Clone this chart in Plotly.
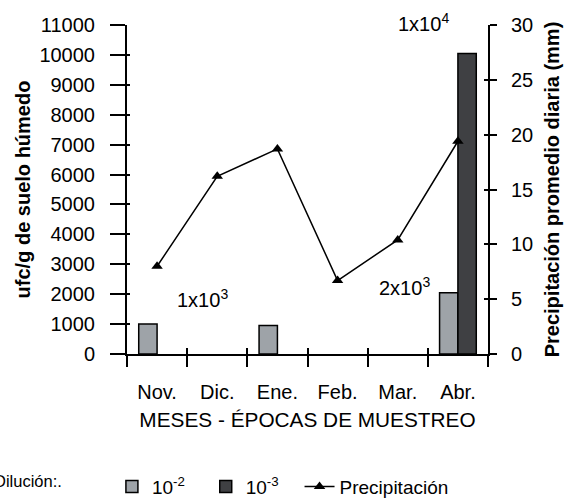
import plotly.graph_objects as go

meses = ["Nov.", "Dic.", "Ene.", "Feb.", "Mar.", "Abr."]
dil_2 = [1000, None, 950, None, None, 2050]
dil_3 = [None, None, None, None, None, 10050]
precip = [8.0, 16.2, 18.7, 6.7, 10.4, 19.4]

FONT = "Arial"
BLACK = "black"
PAD = "&nbsp;&nbsp;&nbsp;"

fig = go.Figure()
fig.add_trace(go.Bar(x=meses, y=dil_2, name="10<sup>-2</sup>" + PAD,
                     marker=dict(color="#9ea3a8", line=dict(color=BLACK, width=1.5))))
fig.add_trace(go.Bar(x=meses, y=dil_3, name="10<sup>-3</sup>" + PAD,
                     marker=dict(color="#3f4043", line=dict(color=BLACK, width=1.5))))
fig.add_trace(go.Scatter(x=meses, y=precip, name="Precipitación", yaxis="y2",
                         mode="lines+markers", line=dict(color=BLACK, width=1.5),
                         marker=dict(symbol="triangle-up", size=10, color=BLACK)))
fig.add_trace(go.Scatter(x=[], y=[], xaxis="x2", yaxis="y3", showlegend=False, hoverinfo="skip"))
fig.add_trace(go.Scatter(x=[], y=[], xaxis="x2", yaxis="y4", showlegend=False, hoverinfo="skip"))

fig.update_layout(
    width=571, height=499,
    margin=dict(l=127, r=83, t=25, b=145, autoexpand=False),
    plot_bgcolor="white", paper_bgcolor="white",
    font=dict(family=FONT, size=20, color=BLACK),
    barmode="group", bargap=0.39, bargroupgap=0,
    xaxis=dict(type="category", range=[-0.5, 5.5], tickson="boundaries", automargin=False,
               ticks="outside", ticklen=11, tickwidth=2, tickcolor=BLACK, ticklabelstandoff=19,
               showline=True, linewidth=2, linecolor=BLACK, showgrid=False,
               title=dict(text="MESES - ÉPOCAS DE MUESTREO", standoff=10, font=dict(size=20.8))),
    xaxis2=dict(overlaying="x", anchor="y", side="bottom", range=[-0.5, 5.5], automargin=False,
                tickmode="array", tickvals=[-0.5, 0.5, 1.5, 2.5, 3.5, 4.5, 5.5],
                ticks="inside", ticklen=6, tickwidth=2, tickcolor=BLACK,
                showticklabels=False, showline=False, showgrid=False, zeroline=False),
    yaxis=dict(range=[0, 11000], dtick=1000, tickformat="d", ticks="outside", ticklen=15,
               tickwidth=2, tickcolor=BLACK, showline=True, linewidth=2, linecolor=BLACK,
               showgrid=False, zeroline=False, automargin=False, ticklabelstandoff=11,
               title=dict(text="<b>ufc/g de suelo húmedo</b>", standoff=3, font=dict(size=20))),
    yaxis3=dict(overlaying="y", anchor="x", side="left", range=[0, 11000], dtick=1000,
                ticks="inside", ticklen=3, tickwidth=2, tickcolor=BLACK, automargin=False,
                showticklabels=False, showline=False, showgrid=False, zeroline=False),
    yaxis2=dict(overlaying="y", anchor="x", side="right", range=[0, 30], dtick=5,
                ticks="outside", ticklen=7, tickwidth=2, tickcolor=BLACK, automargin=False,
                ticklabelstandoff=10,
                showline=True, linewidth=2, linecolor=BLACK, showgrid=False, zeroline=False,
                title=dict(text="<b>Precipitación promedio diaria (mm)</b>", standoff=13,
                           font=dict(size=20))),
    yaxis4=dict(overlaying="y", anchor="x", side="right", range=[0, 30], dtick=5,
                ticks="inside", ticklen=4, tickwidth=2, tickcolor=BLACK, automargin=False,
                showticklabels=False, showline=False, showgrid=False, zeroline=False),
    legend=dict(orientation="h", xref="container", x=0.196, xanchor="left",
                yref="container", y=0.025, yanchor="middle",
                font=dict(size=19), bgcolor="rgba(0,0,0,0)", itemwidth=30,
                traceorder="normal"),
    showlegend=True,
)

fig.add_annotation(text="Dilución:.", xref="paper", yref="paper", x=-0.375, y=-0.385,
                   xanchor="left", yanchor="middle", showarrow=False, font=dict(size=16.5))
fig.add_annotation(text="1x10<sup>3</sup>", xref="x", yref="y", x=0.76, y=1850,
                   showarrow=False, font=dict(size=20))
fig.add_annotation(text="2x10<sup>3</sup>", xref="x", yref="y", x=4.12, y=2250,
                   showarrow=False, font=dict(size=20))
fig.add_annotation(text="1x10<sup>4</sup>", xref="x", yref="paper", x=4.42, y=1.009,
                   yanchor="middle", showarrow=False, font=dict(size=20))

fig.write_html("out.html", post_script="document.body.style.margin='0';",
               config={"displayModeBar": False})
